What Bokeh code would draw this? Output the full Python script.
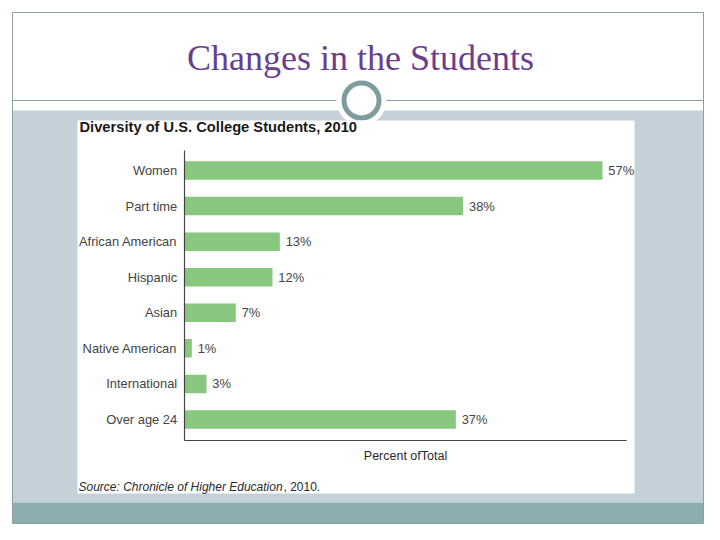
from bokeh.plotting import figure
from bokeh.models import Range1d, ColumnDataSource
from bokeh.core.properties import value
from bokeh.embed import file_html
from bokeh.resources import INLINE

# ---- data ----
categories = ["Women", "Part time", "African American", "Hispanic", "Asian",
              "Native American", "International", "Over age 24"]
percents = [57, 38, 13, 12, 7, 1, 3, 37]
value_labels = [f"{v}%" for v in percents]
slide_title = "Changes in the Students"
chart_title = "Diversity of U.S. College Students, 2010"
x_label = "Percent ofTotal"
source_italic = "Source: Chronicle of Higher Education"
source_tail = ", 2010."

# page-pixel coordinate figure
p = figure(width=704, height=524, x_range=Range1d(0, 704), y_range=Range1d(524, 0),
           output_backend="svg", toolbar_location=None, min_border=0,
           x_axis_location=None, y_axis_location=None)
p.grid.visible = False
p.outline_line_color = None
p.background_fill_color = "white"
p.border_fill_color = "white"

# data ranges for the bar chart (0% at x=184 px, 7.333 px per percent)
p.extra_x_ranges = {"pct": Range1d(-184 / 7.333, (704 - 184) / 7.333)}
p.extra_y_ranges = {"row": Range1d((524 - 170) / 35.57, -170 / 35.57)}

# ---- slide decorations ----
p.quad(left=12, right=703, top=110, bottom=502, fill_color="#C5D1D8", line_color=None)
p.quad(left=12, right=703, top=502, bottom=523, fill_color="#8BADAE", line_color=None)
p.quad(left=12, right=703, top=12, bottom=523, fill_color=None, line_color="#8E9FA3", line_width=1)
p.segment(x0=12, x1=703, y0=100, y1=100, line_color="#8E9FA3", line_width=1)
p.circle(x=[361], y=[100], radius=25, radius_units="screen", fill_color="white",
         line_color=None)
p.circle(x=[361], y=[100], radius=17.5, radius_units="screen", fill_color="white",
         line_color="#7E9C9E", line_width=5)
p.text(x=[360], y=[57], text=[slide_title], text_align="center", text_baseline="middle",
       text_font=value("Liberation Serif"), text_font_size="36px", text_color="#6A3D8E")

# chart card
p.quad(left=77, right=634, top=120, bottom=493, fill_color="white", line_color=None)
p.text(x=[79], y=[126], text=[chart_title], text_align="left", text_baseline="middle",
       text_font=value("Liberation Sans"), text_font_style="bold", text_font_size="14.7px",
       text_color="#1a1a1a")

# ---- bars ----
rows = list(range(len(categories)))
src = ColumnDataSource(dict(y=rows, v=percents, cat=categories, lab=value_labels,
                            lx=[v + 0.8 for v in percents]))
p.hbar(y="y", left=0, right="v", height=0.52, source=src, fill_color="#88C77E",
       line_color=None, x_range_name="pct", y_range_name="row")
p.text(x=-1.0, y="y", text="cat", source=src, text_align="right", text_baseline="middle",
       text_font=value("Liberation Sans"), text_font_size="12.9px", text_color="#444444",
       x_range_name="pct", y_range_name="row")
p.text(x="lx", y="y", text="lab", source=src, text_align="left", text_baseline="middle",
       text_font=value("Liberation Sans"), text_font_size="12.9px", text_color="#444444",
       x_range_name="pct", y_range_name="row")

# axes lines
p.segment(x0=[0], x1=[0], y0=[-0.56], y1=[7.59], line_color="#444444", line_width=1.2,
          x_range_name="pct", y_range_name="row")
p.segment(x0=[0], x1=[60.3], y0=[7.59], y1=[7.59], line_color="#444444", line_width=1.2,
          x_range_name="pct", y_range_name="row")
p.text(x=[405], y=[455], text=[x_label], text_align="center", text_baseline="middle",
       text_font=value("Liberation Sans"), text_font_size="12.5px", text_color="#2a2a2a")

# source
p.text(x=[78], y=[486], text=[source_italic], text_align="left", text_baseline="middle",
       text_font=value("Liberation Sans"), text_font_style="italic", text_font_size="12px",
       text_color="#2a2a2a")
p.text(x=[283], y=[486], text=[source_tail], text_align="left", text_baseline="middle",
       text_font=value("Liberation Sans"), text_font_size="12px", text_color="#2a2a2a")

open("out.html", "w").write(file_html(p, INLINE))
